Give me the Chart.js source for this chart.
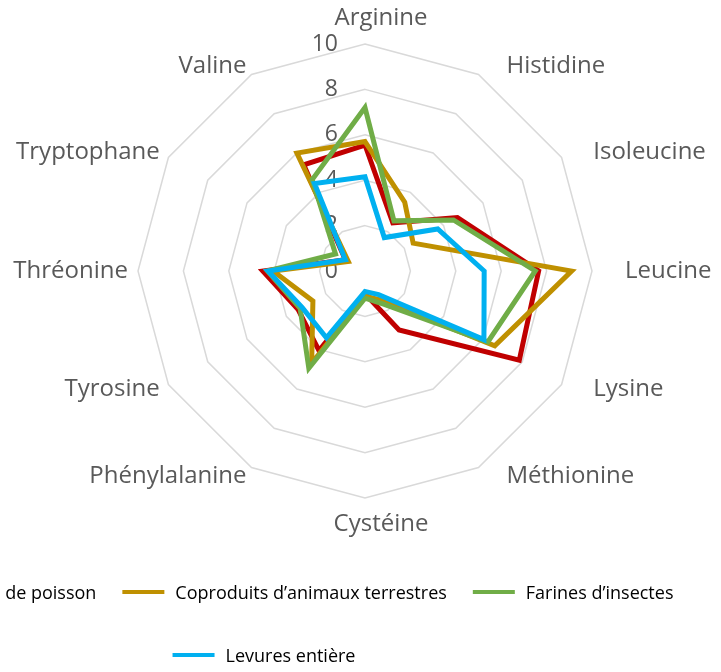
<!DOCTYPE html>
<html lang="fr">
<head>
<meta charset="utf-8">
<title>Profil en acides aminés</title>
<script src="https://cdn.jsdelivr.net/npm/chart.js@4.4.1/dist/chart.umd.min.js"></script>
<style>
  html, body { margin: 0; padding: 0; background: #fff; overflow: hidden; }
  #chart { display: block; }
</style>
</head>
<body>
<canvas id="chart" width="721" height="672"></canvas>
<script>
// Données
const categories = ["Arginine", "Histidine", "Isoleucine", "Leucine", "Lysine", "Méthionine",
  "Cystéine", "Phénylalanine", "Tyrosine", "Thréonine", "Tryptophane", "Valine"];

const seriesNames = ["Coproduits de poisson", "Coproduits d’animaux terrestres", "Farines d’insectes", "Levures entière"];
const seriesColors = ["#C00000", "#BF9000", "#70AD47", "#00B0F0"];

const poisson = [5.55, 2.45, 4.7, 7.65, 7.85, 3.0, 1.0, 4.05, 3.4, 4.5, 1.0, 5.4];
const terrestres = [5.7, 3.5, 2.45, 9.1, 6.6, 1.5, 1.1, 4.7, 2.65, 4.05, 0.85, 6.0];
const insectes = [7.2, 2.55, 4.5, 7.5, 6.25, 1.7, 1.2, 4.95, 3.3, 4.3, 1.5, 4.65];
const levures = [4.15, 1.7, 3.7, 5.25, 6.05, 1.2, 0.9, 3.4, 3.2, 4.27, 1.0, 4.45];

const axisMin = 0;
const axisMax = 10;
const axisStep = 2;

const labelColor = "#595959";

// Graduations à gauche de l'axe vertical (comme Excel)
const tickLabelsPlugin = {
    id: "tickLabels",
    beforeDatasetsDraw(chart) {
        const scale = chart.scales.r;
        const ctx = chart.ctx;
        ctx.save();
        ctx.font = '23px "Open Sans"';
        ctx.fillStyle = labelColor;
        ctx.textAlign = "right";
        ctx.textBaseline = "middle";
        scale.ticks.forEach(t => {
            const y = scale.yCenter - scale.getDistanceFromCenterForValue(t.value);
            ctx.fillText(t.label, scale.xCenter - 27, y);
        });
        ctx.restore();
    }
};

// Libellés des axes
const pointLabelsPlugin = {
    id: "pointLabelsExcel",
    afterDraw(chart) {
        const scale = chart.scales.r;
        const ctx = chart.ctx;
        ctx.save();
        ctx.font = '24px "Open Sans"';
        ctx.fillStyle = labelColor;
        ctx.textBaseline = "middle";
        chart.data.labels.forEach((label, i) => {
            const p = scale.getPointPosition(i, scale.drawingArea + 10);
            const dx = p.x - scale.xCenter;
            let x = p.x, y = p.y;
            if (Math.abs(dx) < 1) {
                ctx.textAlign = "center";
                x += 16;
                y += p.y < scale.yCenter ? -16 : 16;
            } else if (dx > 0) {
                ctx.textAlign = "left";
                x += 23;
            } else {
                ctx.textAlign = "right";
            }
            ctx.fillText(label, x, y);
        });
        ctx.restore();
    }
};

// Légende en bas (déborde du cadre comme sur l'original)
const legendPlugin = {
    id: "bottomLegend",
    afterDraw(chart) {
        const ctx = chart.ctx;
        const sets = chart.data.datasets;
        const rows = [[0, 1, 2], [3]];
        const rowY = [594, 657];
        const lineLen = 42, gapText = 11, gapItem = 26, centerX = 264;
        ctx.save();
        ctx.font = '18px "Open Sans"';
        ctx.textBaseline = "middle";
        ctx.textAlign = "left";
        rows.forEach((row, r) => {
            const widths = row.map(i => lineLen + gapText + ctx.measureText(sets[i].label).width);
            const total = widths.reduce((a, b) => a + b, 0) + gapItem * (row.length - 1);
            let x = centerX - total / 2;
            const y = rowY[r];
            row.forEach((i, k) => {
                ctx.strokeStyle = sets[i].borderColor;
                ctx.lineWidth = 4;
                ctx.beginPath();
                ctx.moveTo(x, y - 2);
                ctx.lineTo(x + lineLen, y - 2);
                ctx.stroke();
                ctx.fillStyle = "#000";
                ctx.fillText(sets[i].label, x + lineLen + gapText, y);
                x += widths[k] + gapItem;
            });
        });
        ctx.restore();
    }
};

function drawChart() {
    const values = [poisson, terrestres, insectes, levures];
    const datasets = values.map((data, i) => ({
        label: seriesNames[i],
        data,
        borderColor: seriesColors[i],
        backgroundColor: seriesColors[i],
        fill: false,
        order: values.length - i
    }));

    new Chart(document.getElementById("chart").getContext("2d"), {
        type: "radar",
        data: { labels: categories, datasets },
        options: {
            responsive: false,
            animation: false,
            layout: { padding: { top: 44, bottom: 174, left: 138, right: 129 } },
            elements: {
                line: { borderWidth: 5, tension: 0 },
                point: { radius: 0, hoverRadius: 0 }
            },
            plugins: {
                legend: { display: false },
                tooltip: { enabled: false }
            },
            scales: {
                r: {
                    min: axisMin,
                    max: axisMax,
                    ticks: { stepSize: axisStep, display: false },
                    grid: { color: "#d9d9d9", lineWidth: 1.5 },
                    angleLines: { display: false },
                    pointLabels: { display: false }
                }
            }
        },
        plugins: [tickLabelsPlugin, pointLabelsPlugin, legendPlugin]
    });
}

document.fonts.load('24px "Open Sans"').then(drawChart, drawChart);
</script>
</body>
</html>
